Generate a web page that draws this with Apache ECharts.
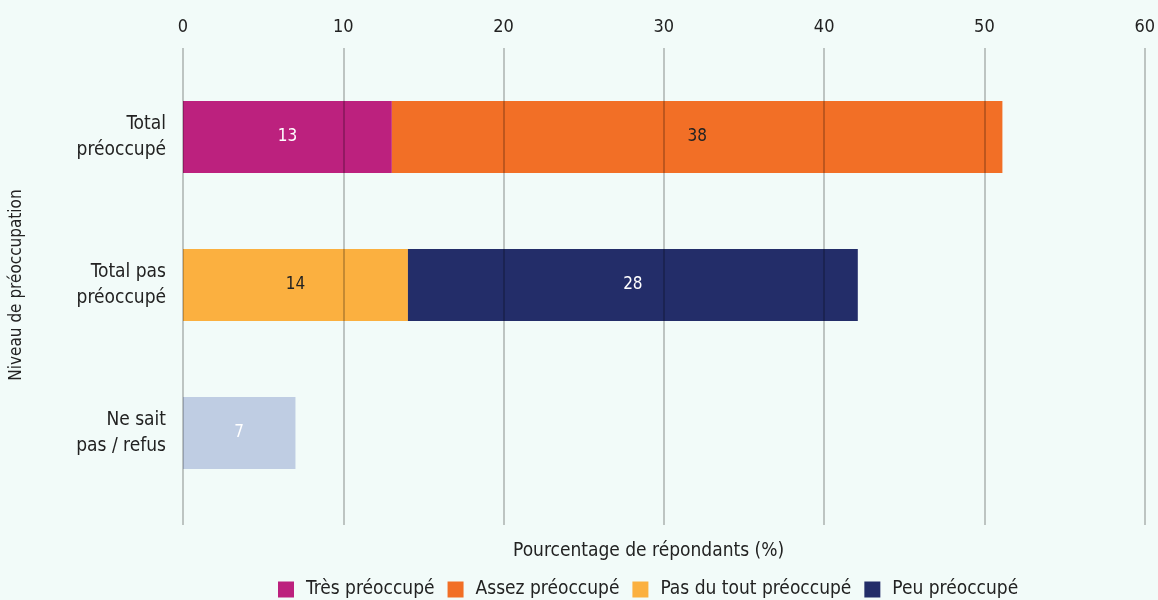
<!DOCTYPE html>
<html>
<head>
<meta charset="utf-8">
<script src="https://cdn.jsdelivr.net/npm/echarts@6/dist/echarts.min.js"></script>
<style>
  html, body { margin: 0; padding: 0; background: #f2fbf9; }
  #main { width: 1158px; height: 600px; }
</style>
</head>
<body>
<div id="main"></div>
<script>
var categories = ['Total\npréoccupé', 'Total pas\npréoccupé', 'Ne sait\npas / refus'];
var tresPreoccupe = [13, null, null];
var assezPreoccupe = [38, null, null];
var pasDuToutPreoccupe = [null, 14, null];
var peuPreoccupe = [null, 28, null];
var neSaitPas = [null, null, 7];
var xTicks = [0, 10, 20, 30, 40, 50, 60];

var font = '"Liberation Sans Narrow", "DejaVu Sans Condensed", sans-serif';

function bar(name, data, color, labelColor) {
  return {
    name: name,
    type: 'bar',
    stack: 'total',
    xAxisIndex: 1,
    yAxisIndex: 1,
    barWidth: 72,
    data: data,
    itemStyle: { color: color },
    label: {
      show: true,
      position: 'inside',
      color: labelColor,
      fontFamily: font,
      fontSize: 17
    }
  };
}

var chart = echarts.init(document.getElementById('main'));
chart.setOption({
  backgroundColor: '#f2fbf9',
  animation: false,
  title: {
    text: 'Pourcentage de répondants (%)',
    left: 508,
    top: 537,
    textStyle: { fontFamily: font, fontSize: 19, fontWeight: 'normal', color: '#222' }
  },
  legend: {
    top: 575,
    left: 273,
    itemWidth: 16,
    itemHeight: 16,
    itemGap: 13,
    icon: 'rect',
    textStyle: { fontFamily: font, fontSize: 19, color: '#222', padding: [0, 0, 0, 7] },
    data: ['Très préoccupé', 'Assez préoccupé', 'Pas du tout préoccupé', 'Peu préoccupé']
  },
  grid: [
    { left: 183, right: 11, top: 48, bottom: 75 },
    { left: 183, right: 11, top: 63, bottom: 93 }
  ],
  xAxis: [
    {
      gridIndex: 0,
      type: 'value',
      position: 'top',
      min: xTicks[0],
      max: xTicks[xTicks.length - 1],
      interval: 10,
      z: 10,
      axisLine: { show: false },
      axisTick: { show: false },
      axisLabel: { fontFamily: font, fontSize: 18, color: '#222', margin: 12 },
      splitLine: { show: true, lineStyle: { color: 'rgba(0,0,0,0.22)', width: 2 } }
    },
    {
      gridIndex: 1,
      type: 'value',
      min: xTicks[0],
      max: xTicks[xTicks.length - 1],
      show: false
    }
  ],
  yAxis: [
    {
      gridIndex: 0,
      type: 'category',
      data: categories,
      show: false
    },
    {
      gridIndex: 1,
      type: 'category',
      inverse: true,
      data: categories,
      name: 'Niveau de préoccupation',
      nameLocation: 'middle',
      nameGap: 158,
      nameRotate: 90,
      nameTextStyle: { fontFamily: font, fontSize: 17, color: '#222' },
      axisLine: { show: false },
      axisTick: { show: false },
      splitLine: { show: false },
      axisLabel: { fontFamily: font, fontSize: 19, color: '#222', margin: 17, lineHeight: 26, align: 'right' }
    }
  ],
  series: [
    bar('Très préoccupé', tresPreoccupe, '#bc217e', '#ffffff'),
    bar('Assez préoccupé', assezPreoccupe, '#f26f26', '#222222'),
    bar('Pas du tout préoccupé', pasDuToutPreoccupe, '#fbb040', '#222222'),
    bar('Peu préoccupé', peuPreoccupe, '#232d69', '#ffffff'),
    bar('Ne sait pas / refus', neSaitPas, '#bfcde3', '#ffffff')
  ]
});
</script>
</body>
</html>
